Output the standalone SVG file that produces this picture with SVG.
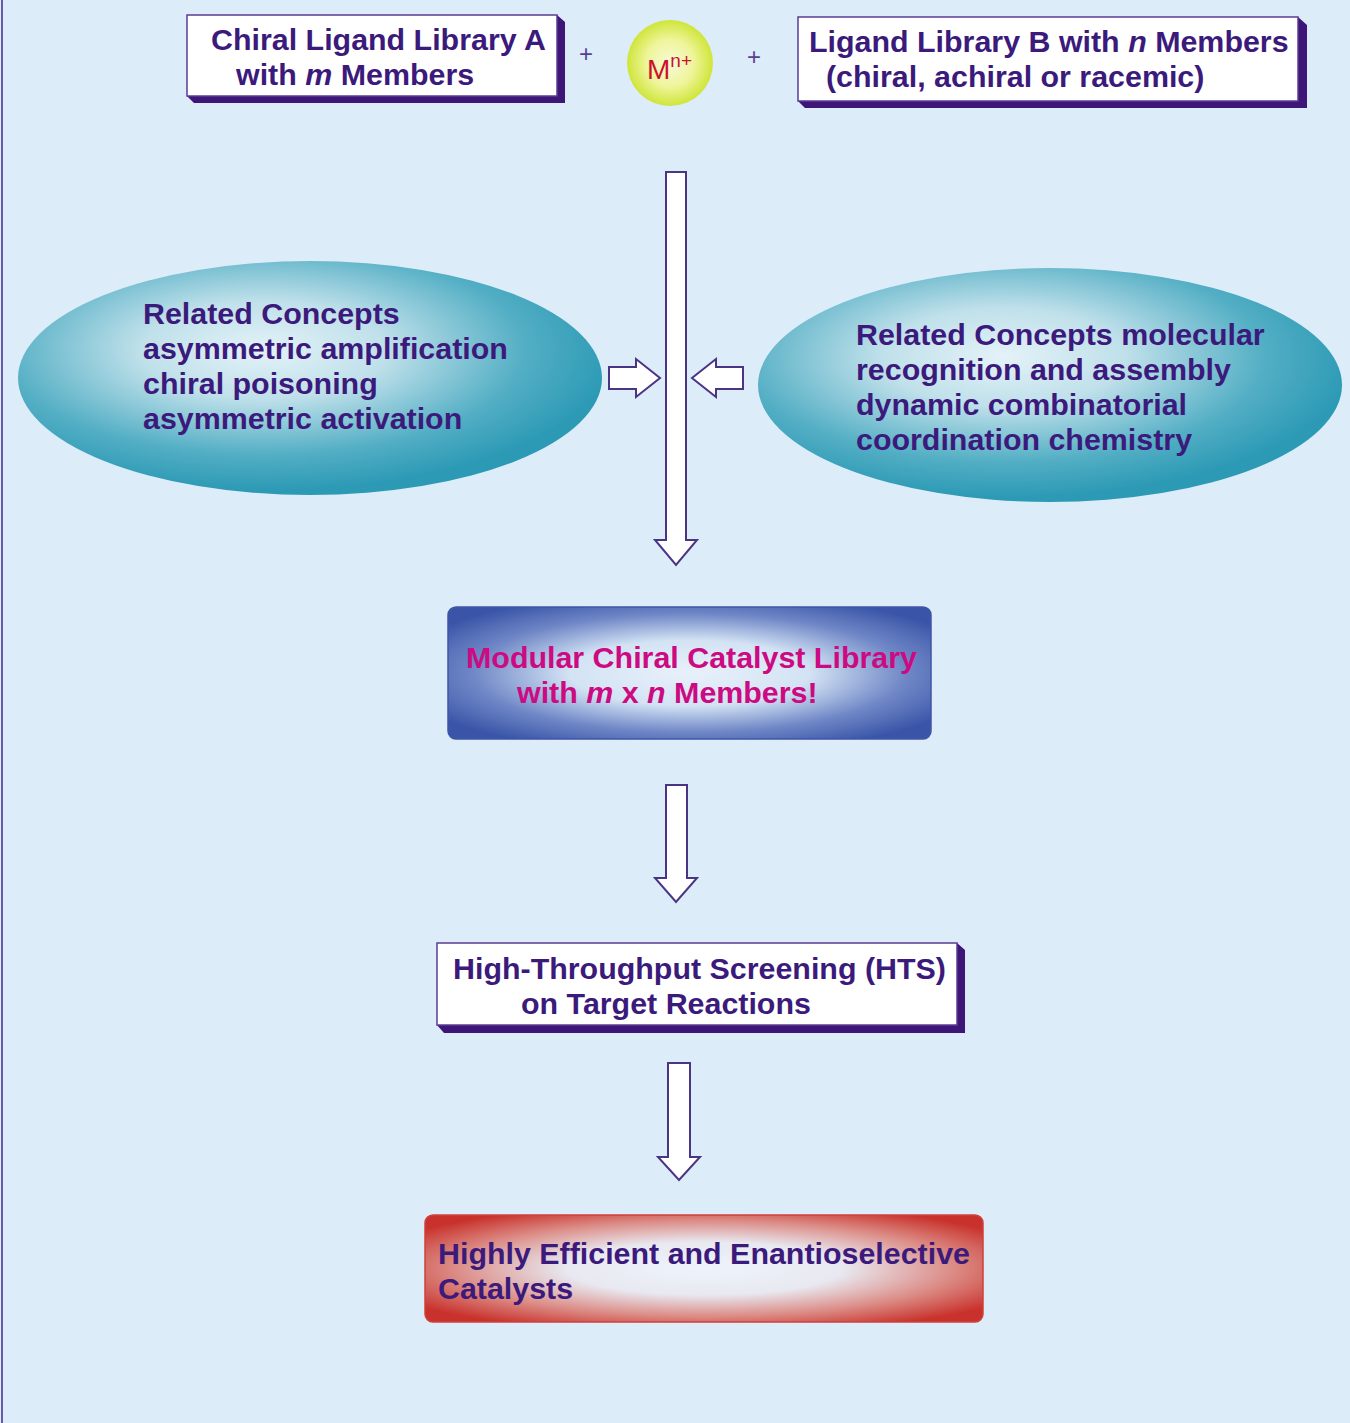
<svg xmlns="http://www.w3.org/2000/svg" width="1350" height="1423" viewBox="0 0 1350 1423">
<defs>
<radialGradient id="gEll" cx="0.42" cy="0.38" r="0.6">
<stop offset="0" stop-color="#e4f2f8"/>
<stop offset="0.35" stop-color="#bfe0ea"/>
<stop offset="0.75" stop-color="#52aec4"/>
<stop offset="1" stop-color="#2d9ab5"/>
</radialGradient>
<radialGradient id="gM" cx="0.5" cy="0.5" r="0.5">
<stop offset="0" stop-color="#f8f9d8"/>
<stop offset="0.55" stop-color="#eef59a"/>
<stop offset="1" stop-color="#cfe53a"/>
</radialGradient>
<radialGradient id="gBlue" cx="0.5" cy="0.5" r="0.62">
<stop offset="0" stop-color="#e8f1fa"/>
<stop offset="0.4" stop-color="#d3e3f4"/>
<stop offset="0.72" stop-color="#7088c7"/>
<stop offset="1" stop-color="#3a55a8"/>
</radialGradient>
<radialGradient id="gRed" cx="0.5" cy="0.5" r="0.62">
<stop offset="0" stop-color="#eef4fb"/>
<stop offset="0.4" stop-color="#e8e8f0"/>
<stop offset="0.72" stop-color="#dc8c86"/>
<stop offset="1" stop-color="#c9322c"/>
</radialGradient>
<style>
.t{font-family:"Liberation Sans",Arial,sans-serif;font-weight:bold;font-size:30.4px;fill:#3b1a7c}
.mg{fill:#cc0a82}
.box{fill:#ffffff;stroke:#5a3d92;stroke-width:1.5}
.sh{fill:#3d1678}
.arr{fill:#ffffff;stroke:#4a3585;stroke-width:2;stroke-linejoin:miter}
.plus{font-family:"Liberation Sans",Arial,sans-serif;font-size:24px;fill:#5a3d92}
</style>
</defs>
<rect width="1350" height="1423" fill="#dcedf9"/>
<line x1="2" y1="0" x2="2" y2="1423" stroke="#6a5aa8" stroke-width="2"/>

<g id="connectors">
<path class="arr" d="M666,172 H686 V540 H697 L676,565 L655,540 H666 Z"/>
<path class="arr" d="M609,367 H636 V359 L660,378 L636,397 V389 H609 Z"/>
<path class="arr" d="M743,367 H716 V359 L692,378 L716,397 V389 H743 Z"/>
<path class="arr" d="M666,785 H687 V878 H697 L676,902 L655,878 H666 Z"/>
<path class="arr" d="M668,1063 H690 V1157 H700 L679,1180 L658,1157 H668 Z"/>
</g>

<g id="libA">
<path class="sh" d="M557,15 L565,22 V103 H194 L187,96 H557 Z"/>
<rect class="box" x="187" y="15" width="370" height="81"/>
<text class="t" x="211" y="50">Chiral Ligand Library A</text>
<text class="t" x="236" y="85">with <tspan font-style="italic">m</tspan> Members</text>
</g>

<text class="plus" x="579" y="62">+</text>

<g id="metal">
<circle cx="670" cy="63" r="43" fill="url(#gM)"/>
<text x="647" y="79" font-family="'Liberation Sans',Arial,sans-serif" font-size="28" fill="#c8142e">M<tspan font-size="19" dy="-12">n+</tspan></text>
</g>

<text class="plus" x="747" y="65">+</text>

<g id="libB">
<path class="sh" d="M1298,17 L1307,25 V108 H805 L798,101 H1298 Z"/>
<rect class="box" x="798" y="17" width="500" height="84"/>
<text class="t" x="809" y="52">Ligand Library B with <tspan font-style="italic">n</tspan> Members</text>
<text class="t" x="826" y="87">(chiral, achiral or racemic)</text>
</g>

<g id="conceptsLeft">
<ellipse cx="310" cy="378" rx="292" ry="117" fill="url(#gEll)"/>
<text class="t" x="143" y="324">Related Concepts</text>
<text class="t" x="143" y="359">asymmetric amplification</text>
<text class="t" x="143" y="394">chiral poisoning</text>
<text class="t" x="143" y="429">asymmetric activation</text>
</g>

<g id="conceptsRight">
<ellipse cx="1050" cy="385" rx="292" ry="117" fill="url(#gEll)"/>
<text class="t" x="856" y="345">Related Concepts molecular</text>
<text class="t" x="856" y="380">recognition and assembly</text>
<text class="t" x="856" y="415">dynamic combinatorial</text>
<text class="t" x="856" y="450">coordination chemistry</text>
</g>

<g id="catalystLibrary">
<rect x="448" y="607" width="483" height="132" rx="8" fill="url(#gBlue)" stroke="#3f56a6" stroke-width="1.5"/>
<text class="t mg" x="466" y="668">Modular Chiral Catalyst Library</text>
<text class="t mg" x="517" y="703">with <tspan font-style="italic">m</tspan> x <tspan font-style="italic">n</tspan> Members!</text>
</g>

<g id="hts">
<path class="sh" d="M957,943 L965,950 V1033 H444 L437,1025 H957 Z"/>
<rect class="box" x="437" y="943" width="520" height="82"/>
<text class="t" x="453" y="979">High-Throughput Screening (HTS)</text>
<text class="t" x="521" y="1014">on Target Reactions</text>
</g>

<g id="catalysts">
<rect x="425" y="1215" width="558" height="107" rx="8" fill="url(#gRed)" stroke="#d0403a" stroke-width="1.5"/>
<text class="t" x="438" y="1264">Highly Efficient and Enantioselective</text>
<text class="t" x="438" y="1299">Catalysts</text>
</g>
</svg>
